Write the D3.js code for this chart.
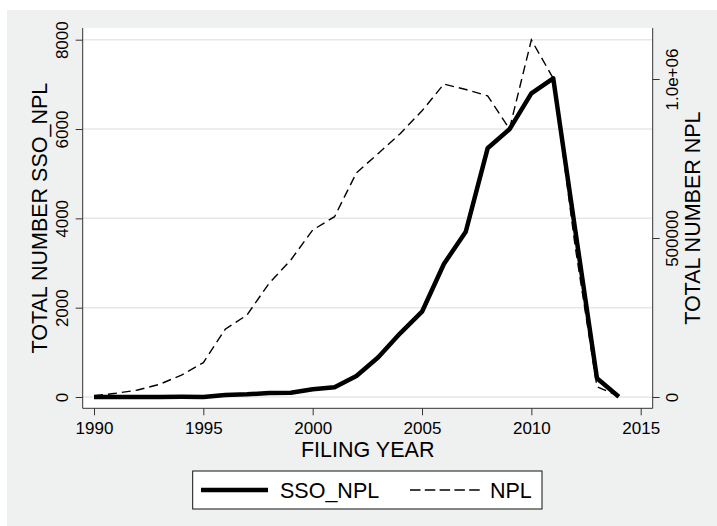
<!DOCTYPE html>
<html>
<head>
<meta charset="utf-8">
<script src="https://cdn.jsdelivr.net/npm/d3@7"></script>
<style>
  body { margin: 0; background: #fff; }
  text { font-family: "Liberation Sans", Arial, Helvetica, sans-serif; fill: #000; }
</style>
</head>
<body>
<div id="chart"></div>
<script>
const years = [1990, 1991, 1992, 1993, 1994, 1995, 1996, 1997, 1998, 1999,
  2000, 2001, 2002, 2003, 2004, 2005, 2006, 2007, 2008, 2009,
  2010, 2011, 2012, 2013, 2014];
const ssoNpl = [0, 0, 0, 0, 5, 0, 45, 60, 90, 96,
  172, 217, 470, 889, 1426, 1910, 2978, 3701, 5568, 5994,
  6800, 7136, 3760, 419, 5];
const npl = [4000, 11600, 22000, 40000, 69000, 108000, 213000, 258000, 357000, 431000,
  525000, 567000, 705000, 766000, 828000, 900000, 984000, 967000, 947000, 843000,
  1123000, 1002000, 475000, 32000, 3000];

const xTicks = [1990, 1995, 2000, 2005, 2010, 2015];
const leftTicks = [0, 2000, 4000, 6000, 8000];
const rightTicks = [0, 500000, 1000000];
const rightTickLabels = ["0", "500000", "1.0e+06"];

const W = 717, H = 526;
const plot = { left: 82.7, right: 652.7, top: 28, bottom: 408.3 };

const svg = d3.select('#chart')
  .append('svg')
  .attr('width', W)
  .attr('height', H);

// background
svg.append('rect')
  .attr('x', 7).attr('y', 10)
  .attr('width', W - 7).attr('height', H - 10)
  .attr('fill', '#eff1f0');

svg.append('rect')
  .attr('x', plot.left).attr('y', plot.top)
  .attr('width', plot.right - plot.left)
  .attr('height', plot.bottom - plot.top)
  .attr('fill', '#fff');

const x = d3.scaleLinear().domain([1990, 2015]).range([94, 640.7]);
const yL = d3.scaleLinear().domain([0, 8000]).range([397, 39.7]);
const yR = d3.scaleLinear().domain([0, 1000000]).range([397, 79]);

// grid
svg.append('g')
  .selectAll('line')
  .data(leftTicks)
  .enter()
  .append('line')
  .attr('x1', plot.left).attr('x2', plot.right)
  .attr('y1', d => yL(d)).attr('y2', d => yL(d))
  .attr('stroke', '#e6e8e8')
  .attr('stroke-width', 1.5);

// bottom axis
const xAxis = svg.append('g')
  .attr('transform', `translate(0,${plot.bottom})`)
  .call(d3.axisBottom(x).tickValues(xTicks).tickFormat(d3.format('d')).tickSize(7).tickPadding(6).tickSizeOuter(0));
xAxis.select('.domain').remove();
xAxis.selectAll('line').attr('stroke', '#333');
xAxis.selectAll('text').attr('font-size', 17).attr('fill', '#000').attr('dy', null).attr('y', 25.7);

svg.append('line')
  .attr('x1', plot.left).attr('x2', plot.right)
  .attr('y1', plot.bottom).attr('y2', plot.bottom)
  .attr('stroke', '#333');

// left axis
const leftAxis = svg.append('g')
  .attr('transform', `translate(${plot.left},0)`)
  .call(d3.axisLeft(yL).tickValues(leftTicks).tickFormat(d3.format('d')).tickSize(7).tickSizeOuter(0));
leftAxis.select('.domain').remove();
leftAxis.selectAll('line').attr('stroke', '#333');
leftAxis.selectAll('text')
  .attr('font-size', 17)
  .attr('fill', '#000')
  .attr('x', null).attr('dy', null)
  .attr('text-anchor', 'middle')
  .attr('transform', `translate(${68.3 - plot.left},0) rotate(-90)`);

svg.append('line')
  .attr('x1', plot.left).attr('x2', plot.left)
  .attr('y1', plot.top).attr('y2', plot.bottom)
  .attr('stroke', '#333');

// right axis
const rightAxis = svg.append('g')
  .attr('transform', `translate(${plot.right},0)`)
  .call(d3.axisRight(yR).tickValues(rightTicks).tickFormat((d, i) => rightTickLabels[i]).tickSize(7).tickSizeOuter(0));
rightAxis.select('.domain').remove();
rightAxis.selectAll('line').attr('stroke', '#333');
rightAxis.selectAll('text')
  .attr('font-size', 17)
  .attr('fill', '#000')
  .attr('x', null).attr('dy', null)
  .attr('text-anchor', 'middle')
  .attr('transform', `translate(${678.3 - plot.right},0) rotate(-90)`);

svg.append('line')
  .attr('x1', plot.right).attr('x2', plot.right)
  .attr('y1', plot.top).attr('y2', plot.bottom)
  .attr('stroke', '#333');

// axis titles
const midY = (plot.top + plot.bottom) / 2;
svg.append('text')
  .attr('transform', `translate(46.7,${midY}) rotate(-90)`)
  .attr('text-anchor', 'middle')
  .attr('font-size', 21.5)
  .text('TOTAL NUMBER SSO_NPL');

svg.append('text')
  .attr('transform', `translate(700,${midY}) rotate(-90)`)
  .attr('text-anchor', 'middle')
  .attr('font-size', 21.5)
  .text('TOTAL NUMBER NPL');

svg.append('text')
  .attr('x', (plot.left + plot.right) / 2)
  .attr('y', 456.7)
  .attr('text-anchor', 'middle')
  .attr('font-size', 21.5)
  .text('FILING YEAR');

// lines
const lineL = d3.line().x((d, i) => x(years[i])).y(d => yL(d));
const lineR = d3.line().x((d, i) => x(years[i])).y(d => yR(d));

svg.append('path')
  .datum(ssoNpl)
  .attr('d', lineL)
  .attr('fill', 'none')
  .attr('stroke', '#000')
  .attr('stroke-width', 4.5)
  .attr('stroke-linejoin', 'round');

svg.append('path')
  .datum(npl)
  .attr('d', lineR)
  .attr('fill', 'none')
  .attr('stroke', '#000')
  .attr('stroke-width', 1.4)
  .attr('stroke-dasharray', '9,5');

// legend
const legend = svg.append('g');
legend.append('rect')
  .attr('x', 192.7).attr('y', 471)
  .attr('width', 542 - 192.7).attr('height', 38)
  .attr('fill', '#fff')
  .attr('stroke', '#111')
  .attr('stroke-width', 1);
legend.append('line')
  .attr('x1', 201).attr('x2', 268)
  .attr('y1', 490).attr('y2', 490)
  .attr('stroke', '#000').attr('stroke-width', 4.5);
legend.append('text')
  .attr('x', 280).attr('y', 498)
  .attr('font-size', 21.5)
  .text('SSO_NPL');
legend.append('line')
  .attr('x1', 410).attr('x2', 480)
  .attr('y1', 490).attr('y2', 490)
  .attr('stroke', '#000').attr('stroke-width', 1.4)
  .attr('stroke-dasharray', '10.5,4.3');
legend.append('text')
  .attr('x', 490).attr('y', 498)
  .attr('font-size', 21.5)
  .text('NPL');
</script>
</body>
</html>
